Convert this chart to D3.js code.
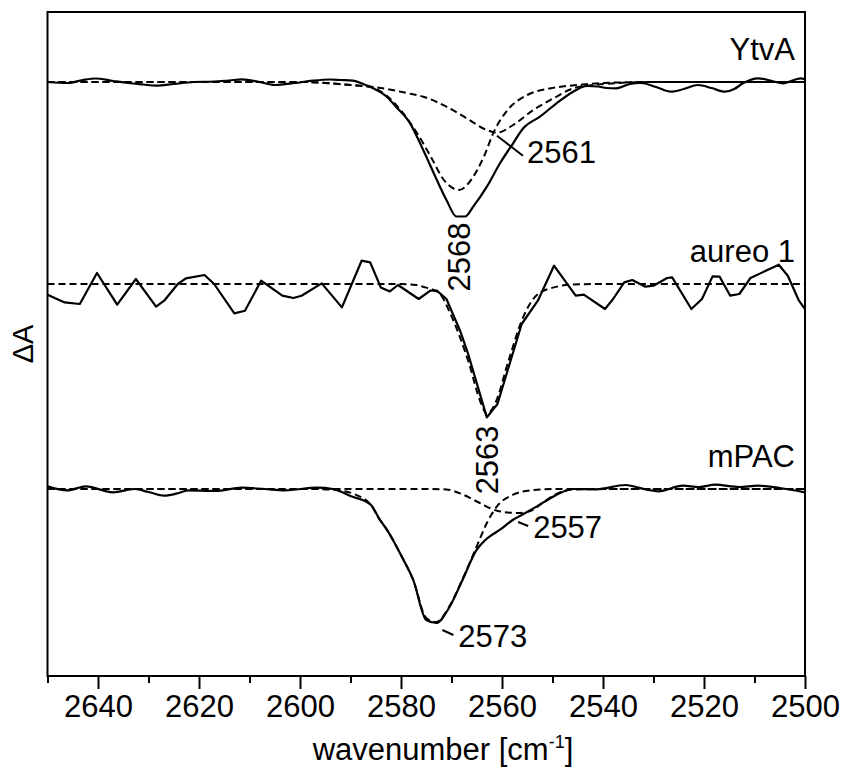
<!DOCTYPE html>
<html>
<head>
<meta charset="utf-8">
<script src="https://cdn.jsdelivr.net/npm/d3@7"></script>
<style>
  html, body { margin: 0; padding: 0; background: #fff; }
  svg { display: block; }
  text { font-family: "Liberation Sans", Arial, Helvetica, sans-serif; fill: #000; }
</style>
</head>
<body>
<svg id="chart" width="843" height="772"></svg>
<script>
// Difference spectra (ΔA, arbitrary units) of the S–H stretching band, [wavenumber, ΔA]
const ytvaSpectrum = [
  [2650, 0.00], [2646, -0.01], [2643, 0.02], [2640.5, 0.035], [2637, 0.01], [2634, -0.01],
  [2631, -0.025], [2628.5, -0.037], [2625, -0.02], [2621, 0.0], [2617, 0.005], [2614, 0.015],
  [2611.5, 0.027], [2608, 0.0], [2605, -0.03], [2601, -0.01], [2597.5, 0.013], [2594, 0.025],
  [2592, 0.02], [2589.5, 0.013], [2587.5, -0.02], [2585.5, -0.063], [2583, -0.14], [2581, -0.247],
  [2578.2, -0.413], [2575.6, -0.68], [2572.9, -0.98], [2571, -1.18], [2569, -1.345], [2567.3, -1.345],
  [2565.7, -1.247], [2563, -1.047], [2560.4, -0.813], [2557.8, -0.613], [2555.8, -0.463],
  [2552.5, -0.347], [2549.2, -0.213], [2545.9, -0.097], [2543.2, -0.04], [2541, -0.045],
  [2539.3, -0.06], [2537.3, -0.063], [2534.7, -0.02], [2532.5, -0.01], [2529.5, -0.05],
  [2526.5, -0.097], [2524, -0.07], [2521.2, -0.03], [2518.5, -0.06], [2515.9, -0.097],
  [2514, -0.07], [2512.3, -0.013], [2509.3, 0.037], [2506.5, 0.01], [2504.4, -0.013],
  [2500.8, 0.037], [2500, 0.027]
];
const ytvaBand2568 = [
  [2650, 0], [2600, 0], [2595, -0.01], [2590, -0.03], [2586, -0.05], [2583, -0.13],
  [2580.1, -0.28], [2576.8, -0.513], [2574.1, -0.747], [2571.5, -0.98], [2568.5, -1.08],
  [2565.9, -0.963], [2563.6, -0.747], [2561.6, -0.497], [2558.9, -0.28], [2555, -0.13],
  [2550.3, -0.063], [2545.1, -0.03], [2540, -0.01], [2530, 0], [2500, 0]
];
const ytvaBand2561 = [
  [2650, 0], [2600, 0], [2595, -0.01], [2590, -0.03], [2584.9, -0.053], [2578.9, -0.11],
  [2575.6, -0.147], [2571, -0.247], [2567, -0.363], [2563, -0.48], [2561, -0.507],
  [2557.8, -0.43], [2553.8, -0.28], [2549.8, -0.163], [2545.9, -0.063], [2541.9, -0.03],
  [2537, -0.01], [2530, 0], [2500, 0]
];

const aureoSpectrum = [
  [2650.0, -0.107], [2646.6, -0.184], [2643.6, -0.20], [2640.2, 0.11], [2636.2, -0.207],
  [2632.5, 0.05], [2628.5, -0.227], [2626.9, -0.167], [2624.2, 0.0], [2622.6, 0.056],
  [2618.9, 0.09], [2617.0, 0.0], [2613.0, -0.294], [2610.9, -0.267], [2607.7, 0.033],
  [2603.5, -0.117], [2601.3, -0.14], [2599.7, -0.117], [2595.7, 0.006], [2591.7, -0.234],
  [2587.8, 0.233], [2586.1, 0.216], [2584.0, -0.034], [2582.2, -0.074], [2580.6, -0.01],
  [2576.5, -0.15], [2574.2, -0.067], [2572.9, -0.067], [2571.0, -0.15], [2568.3, -0.467],
  [2566.7, -0.70], [2563.0, -1.334], [2560.9, -1.20], [2558.8, -0.85], [2556.1, -0.40],
  [2552.9, -0.167], [2549.7, 0.183], [2545.4, -0.117], [2543.8, -0.107], [2539.6, -0.25],
  [2538.0, -0.15], [2535.8, 0.016], [2534.2, 0.04], [2531.6, -0.027], [2530.0, -0.017],
  [2527.3, 0.06], [2526.3, 0.066], [2522.5, -0.25], [2520.4, -0.15], [2518.3, 0.076],
  [2516.9, 0.073], [2514.8, -0.117], [2513.0, -0.10], [2510.8, 0.06], [2505.2, 0.193],
  [2503.4, 0.083], [2501.2, -0.167], [2500.0, -0.25]
];
const aureoBand2563 = [
  [2650, 0], [2580, 0], [2577, -0.01], [2575.2, -0.034], [2572.6, -0.084], [2569.9, -0.334],
  [2566.7, -0.767], [2564.1, -1.2], [2563, -1.30], [2561.4, -1.2], [2558.7, -0.767],
  [2556.1, -0.367], [2552.9, -0.10], [2549.7, -0.034], [2546.5, -0.007], [2540, 0], [2500, 0]
];

const mpacSpectrum = [
  [2650, 0.026], [2646.1, -0.013], [2642.4, 0.026], [2637, -0.033], [2632.8, 0.0],
  [2630, -0.03], [2626.9, -0.067], [2624, -0.04], [2622.1, -0.013], [2616.8, -0.02],
  [2611.5, 0.013], [2607, 0.0], [2603, -0.013], [2596.6, 0.013], [2593.5, 0.0],
  [2590, -0.07], [2586, -0.157], [2584.2, -0.307], [2582.8, -0.407], [2580.9, -0.574],
  [2579.6, -0.70], [2577.6, -0.907], [2575, -1.31], [2573, -1.34], [2570.5, -1.19],
  [2567.8, -0.907], [2565, -0.607], [2563.5, -0.52], [2562.4, -0.474], [2560.4, -0.407],
  [2557.8, -0.307], [2556.1, -0.26], [2553.1, -0.174], [2550, -0.08], [2548.5, -0.04],
  [2545.9, 0.0], [2541.3, -0.003], [2535.6, 0.04], [2531.3, -0.007], [2529, -0.023],
  [2524.2, 0.033], [2521, 0.02], [2517.8, 0.043], [2513, 0.02], [2509.3, 0.033],
  [2505, 0.01], [2500, -0.033]
];
const mpacBand2573 = [
  [2650, 0], [2598, 0], [2593, -0.01], [2589, -0.057], [2586, -0.157], [2584.2, -0.307],
  [2582.8, -0.407], [2579.6, -0.70], [2577.6, -0.907], [2575, -1.29], [2573, -1.33],
  [2570.5, -1.18], [2567.8, -0.90], [2565, -0.574], [2563, -0.34], [2561, -0.174],
  [2557.8, -0.057], [2554.5, -0.014], [2550, 0], [2500, 0]
];
const mpacBand2557 = [
  [2650, 0], [2575, 0], [2571, -0.005], [2567.7, -0.057], [2564.4, -0.14], [2561, -0.217],
  [2557, -0.24], [2554.5, -0.224], [2552, -0.14], [2549.5, -0.057], [2546, -0.005],
  [2540, 0], [2500, 0]
];

// Vertical offsets that stack the three spectra
const sampleNames = ["YtvA", "aureo 1", "mPAC"];
const sampleOffsets = [0, -2.02, -4.07];

// Axis ticks
const majorTicks = [2640, 2620, 2600, 2580, 2560, 2540, 2520, 2500];
const minorTicks = [2650, 2630, 2610, 2590, 2570, 2550, 2530, 2510];

// Band position labels: sample index, band position, ΔA at the band minimum
const bandLabels = [
  { sample: 0, wn: 2568, value: -1.345, style: "vertical", dx: 8, dy: 6 },
  { sample: 0, wn: 2561, value: -0.507, style: "leader", lead: [[0, 3], [26, 23]], tx: 30, ty: 30 },
  { sample: 1, wn: 2563, value: -1.334, style: "vertical", dx: 11, dy: 8 },
  { sample: 2, wn: 2557, value: -0.24, style: "leader", lead: [[1, 9], [11, 13]], tx: 16, ty: 25 },
  { sample: 2, wn: 2573, value: -1.34, style: "leader", lead: [[6, 7], [17, 12]], tx: 22, ty: 24 }
];

const svg = d3.select("#chart");
const margin = { left: 47.5, right: 38, top: 12, bottom: 96 };
const W = 843, H = 772;

const x = d3.scaleLinear().domain([2650, 2500]).range([margin.left, W - margin.right]);
const y = d3.scaleLinear().domain([-5.94, 0.70]).range([H - margin.bottom, margin.top]);

const FS = 31;

svg.append("defs").append("clipPath").attr("id", "plotClip")
  .append("rect")
  .attr("x", x(2650)).attr("y", y(0.70))
  .attr("width", x(2500) - x(2650)).attr("height", y(-5.94) - y(0.70));

const plot = svg.append("g").attr("clip-path", "url(#plotClip)");

const traces = [
  { data: ytvaSpectrum, sample: 0, dashed: false, curve: d3.curveMonotoneX },
  { data: ytvaBand2568, sample: 0, dashed: true, curve: d3.curveMonotoneX },
  { data: ytvaBand2561, sample: 0, dashed: true, curve: d3.curveMonotoneX },
  { data: aureoSpectrum, sample: 1, dashed: false, curve: d3.curveLinear },
  { data: aureoBand2563, sample: 1, dashed: true, curve: d3.curveMonotoneX },
  { data: mpacSpectrum, sample: 2, dashed: false, curve: d3.curveMonotoneX },
  { data: mpacBand2573, sample: 2, dashed: true, curve: d3.curveMonotoneX },
  { data: mpacBand2557, sample: 2, dashed: true, curve: d3.curveMonotoneX }
];

traces.forEach(t => {
  const off = sampleOffsets[t.sample];
  const line = d3.line()
    .x(d => x(d[0]))
    .y(d => y(d[1] + off))
    .curve(t.curve);
  plot.append("path")
    .datum(t.data)
    .attr("d", line)
    .attr("fill", "none")
    .attr("stroke", "#000")
    .attr("stroke-width", t.dashed ? 2 : 2.2)
    .attr("stroke-linejoin", "round")
    .attr("stroke-dasharray", t.dashed ? "7,4" : null);
});

// Sample names, right-aligned inside the frame
sampleNames.forEach((name, i) => {
  svg.append("text")
    .attr("x", x(2500) - 10)
    .attr("y", y(sampleOffsets[i]) - 22)
    .attr("text-anchor", "end")
    .attr("font-size", FS)
    .text(name);
});

// Band position annotations
bandLabels.forEach(b => {
  const px = x(b.wn), py = y(b.value + sampleOffsets[b.sample]);
  if (b.style === "vertical") {
    svg.append("text")
      .attr("transform", `translate(${px + b.dx},${py + b.dy}) rotate(-90)`)
      .attr("text-anchor", "end")
      .attr("font-size", FS)
      .text(b.wn);
  } else {
    svg.append("line")
      .attr("x1", px + b.lead[0][0]).attr("y1", py + b.lead[0][1])
      .attr("x2", px + b.lead[1][0]).attr("y2", py + b.lead[1][1])
      .attr("stroke", "#000").attr("stroke-width", 2);
    svg.append("text")
      .attr("x", px + b.tx)
      .attr("y", py + b.ty)
      .attr("font-size", FS)
      .text(b.wn);
  }
});

// Frame
svg.append("rect")
  .attr("x", x(2650)).attr("y", y(0.70))
  .attr("width", x(2500) - x(2650)).attr("height", y(-5.94) - y(0.70))
  .attr("fill", "none").attr("stroke", "#000").attr("stroke-width", 2);

// Bottom axis: labelled major ticks and short minor ticks
const axisY = y(-5.94);
const gMajor = svg.append("g").attr("transform", `translate(0,${axisY})`)
  .call(d3.axisBottom(x).tickValues(majorTicks).tickSize(13).tickPadding(6).tickFormat(d3.format("d")));
gMajor.select(".domain").remove();
gMajor.selectAll("line").attr("stroke", "#000").attr("stroke-width", 2);
gMajor.selectAll("text").attr("font-size", FS)
  .attr("font-family", "'Liberation Sans', Arial, Helvetica, sans-serif").attr("fill", "#000");

const gMinor = svg.append("g").attr("transform", `translate(0,${axisY})`)
  .call(d3.axisBottom(x).tickValues(minorTicks).tickSize(7).tickFormat(""));
gMinor.select(".domain").remove();
gMinor.selectAll("line").attr("stroke", "#000").attr("stroke-width", 2);

// Axis titles
const xt = svg.append("text")
  .attr("x", 443).attr("y", 760)
  .attr("text-anchor", "middle")
  .attr("font-size", FS);
xt.append("tspan").text("wavenumber [cm");
xt.append("tspan").attr("font-size", 18).attr("dy", -12).text("-1");
xt.append("tspan").attr("dy", 12).text("]");

svg.append("text")
  .attr("transform", `translate(33,${(y(0.70) + y(-5.94)) / 2}) rotate(-90)`)
  .attr("text-anchor", "middle")
  .attr("font-size", 29)
  .text("ΔA");
</script>
</body>
</html>
